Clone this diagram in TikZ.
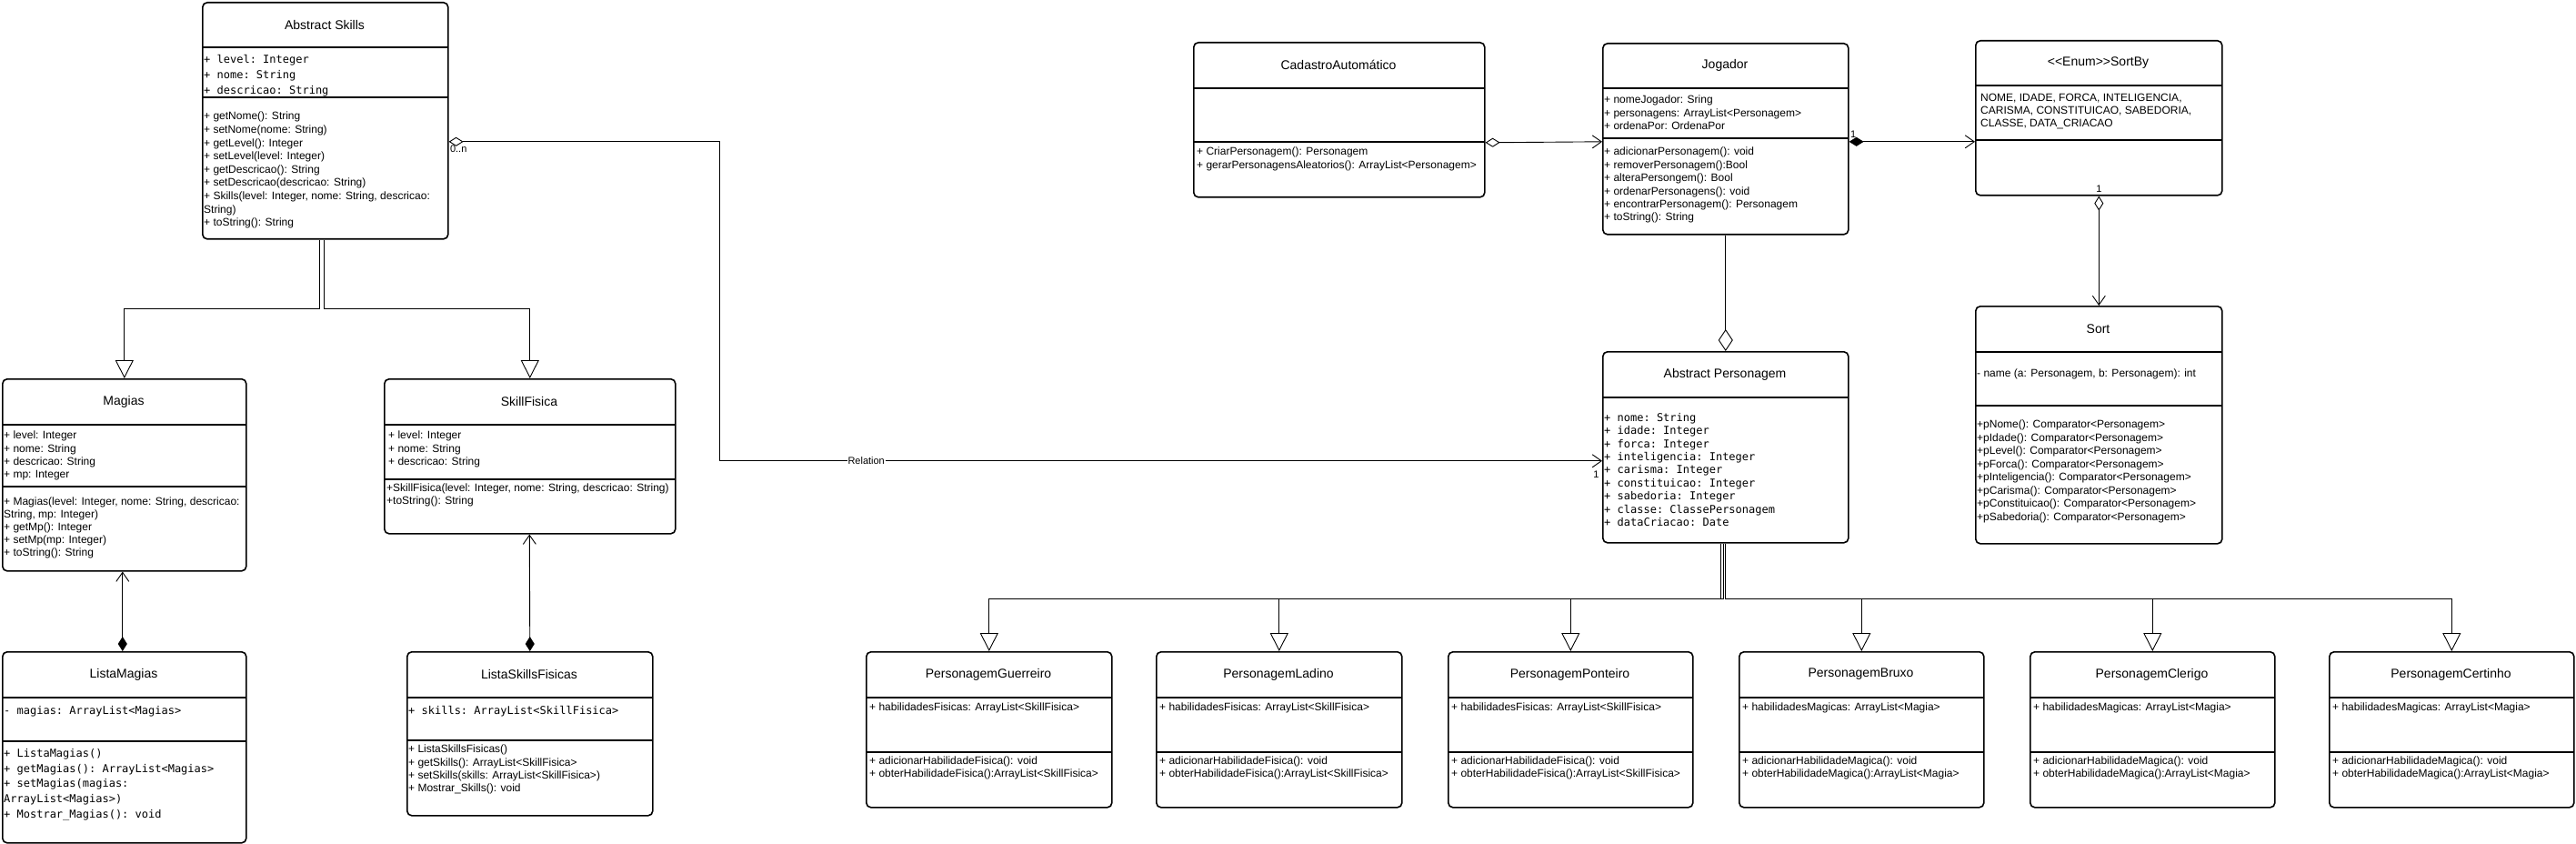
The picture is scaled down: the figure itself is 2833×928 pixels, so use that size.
\documentclass[tikz,border=0pt]{standalone}
\usepackage{fontspec}
\setmainfont{Liberation Sans}
\setmonofont{DejaVu Sans Mono}
\usetikzlibrary{arrows.meta,positioning,calc}

% class box: name, left, top, right, bottom, header line, title
\newcommand{\umlclass}[7]{%
  \node[clsbox,anchor=north west,minimum width={#4-#2},minimum height={#5-#3}] (#1) at (#2,#3) {};
  \draw[divline] (#2,#6) -- (#4,#6);
  \node[ttl] (#1-title) at ({(#2+#4)/2},{(#3+#6)/2}) {#7};
}

\begin{document}
\begin{tikzpicture}[x=1pt,y=-1pt,
  clsbox/.style={draw,line width=1.6pt,rounded corners=5pt,inner sep=0pt},
  divline/.style={line width=1.1pt},
  ttl/.style={font=\fontsize{14}{16}\selectfont,inner sep=0pt},
  mem/.style={anchor=north west,align=left,inner sep=0pt,font=\fontsize{12}{#1}\selectfont},
  mem/.default=14.5,
  mono/.style={anchor=north west,align=left,inner sep=0pt,font=\ttfamily\fontsize{12}{#1}\selectfont},
  mono/.default=14.5,
  lbl/.style={font=\fontsize{11}{13}\selectfont,inner sep=1pt},
  conn/.style={line width=0.9pt},
  gen/.style={conn,-{Triangle[open,length=20pt,width=20pt]}},
  comp/.style={conn,{Diamond[length=16pt,width=10pt]}-{Straight Barb[length=10pt,width=14pt]}},
  aggr/.style={conn,{Diamond[open,length=16pt,width=10pt]}-{Straight Barb[length=10pt,width=14pt]}}]

  \fill[white] (0,0) rectangle (2833,928);
  \useasboundingbox (0,0) rectangle (2833,928);

  % skills side
  \umlclass{as}{222}{2}{492}{262}{52}{Abstract Skills}
  \draw[divline] (222,107) -- (492,107);
  \node[mono=17] (as-attr) at (224,60) {+ level: Integer\\+ nome: String\\+ descricao: String};
  \node[mem=14.6] (as-ops) at (224,123) {+ getNome(): String\\+ setNome(nome: String)\\+ getLevel(): Integer\\+ setLevel(level: Integer)\\+ getDescricao(): String\\+ setDescricao(descricao: String)\\+ Skills(level: Integer, nome: String, descricao:\\String)\\+ toString(): String};

  \umlclass{mg}{2}{416}{270}{627}{467}{Magias}
  \draw[divline] (2,535) -- (270,535);
  \node[mem=14.3] (mg-attr) at (4,474) {+ level: Integer\\+ nome: String\\+ descricao: String\\+ mp: Integer};
  \node[mem=14] (mg-ops) at (4,547) {+ Magias(level: Integer, nome: String, descricao:\\String, mp: Integer)\\+ getMp(): Integer\\+ setMp(mp: Integer)\\+ toString(): String};

  \umlclass{sf}{422}{416}{742}{586}{467}{SkillFisica}
  \draw[divline] (422,527) -- (742,527);
  \node[mem=14.3] (sf-attr) at (427,474) {+ level: Integer\\+ nome: String\\+ descricao: String};
  \node[mem=14] (sf-ops) at (425,532) {+SkillFisica(level: Integer, nome: String, descricao: String)\\+toString(): String};

  \umlclass{lm}{2}{716}{270}{926}{767}{ListaMagias}
  \draw[divline] (2,815) -- (270,815);
  \node[mono] (lm-attr) at (4,776) {- magias: ArrayList<Magias>};
  \node[mono=16.7] (lm-ops) at (4,823) {+ ListaMagias()\\+ getMagias(): ArrayList<Magias>\\+ setMagias(magias:\\ArrayList<Magias>)\\+ Mostrar\_Magias(): void};

  \umlclass{lsf}{447}{716}{717}{896}{767}{ListaSkillsFisicas}
  \draw[divline] (447,814) -- (717,814);
  \node[mono] (lsf-attr) at (449,776) {+ skills: ArrayList<SkillFisica>};
  \node[mem=14.3] (lsf-ops) at (449,819) {+ ListaSkillsFisicas()\\+ getSkills(): ArrayList<SkillFisica>\\+ setSkills(skills: ArrayList<SkillFisica>)\\+ Mostrar\_Skills(): void};

  % player side
  \umlclass{ca}{1312}{46}{1632}{216}{97}{CadastroAutomático}
  \draw[divline] (1312,156) -- (1632,156);
  \node[mem=14.3] (ca-ops) at (1316,162) {+ CriarPersonagem(): Personagem\\+ gerarPersonagensAleatorios(): ArrayList<Personagem>};

  \umlclass{jg}{1762}{47}{2032}{257}{97}{Jogador}
  \draw[divline] (1762,152) -- (2032,152);
  \node[mem] (jg-attr) at (1764,105) {+ nomeJogador: Sring\\+ personagens: ArrayList<Personagem>\\+ ordenaPor: OrdenaPor};
  \node[mem=14.4] (jg-ops) at (1764,162) {+ adicionarPersonagem(): void\\+ removerPersonagem():Bool\\+ alteraPersongem(): Bool\\+ ordenarPersonagens(): void\\+ encontrarPersonagem(): Personagem\\+ toString(): String};

  \umlclass{sb}{2172}{44}{2443}{214}{94}{<\kern0pt<Enum>\kern0pt>SortBy}
  \draw[divline] (2172,154) -- (2443,154);
  \node[mem=14] (sb-attr) at (2178,103) {NOME, IDADE, FORCA, INTELIGENCIA,\\CARISMA, CONSTITUICAO, SABEDORIA,\\CLASSE, DATA\_CRIACAO};

  \umlclass{ap}{1762}{386}{2032}{596}{437}{Abstract Personagem}
  \node[mono=14.4] (ap-attr) at (1764,454) {+ nome: String\\+ idade: Integer\\+ forca: Integer\\+ inteligencia: Integer\\+ carisma: Integer\\+ constituicao: Integer\\+ sabedoria: Integer\\+ classe: ClassePersonagem\\+ dataCriacao: Date};

  \umlclass{so}{2172}{336}{2443}{597}{387}{Sort}
  \draw[divline] (2172,446) -- (2443,446);
  \node[mem] (so-attr) at (2174,406) {- name (a: Personagem, b: Personagem): int};
  \node[mem] (so-ops) at (2174,462) {+pNome(): Comparator<Personagem>\\+pIdade(): Comparator<Personagem>\\+pLevel(): Comparator<Personagem>\\+pForca(): Comparator<Personagem>\\+pInteligencia(): Comparator<Personagem>\\+pCarisma(): Comparator<Personagem>\\+pConstituicao(): Comparator<Personagem>\\+pSabedoria(): Comparator<Personagem>};

  % character classes
  \umlclass{pg}{952}{716}{1222}{887}{767}{PersonagemGuerreiro}
  \draw[divline] (952,827) -- (1222,827);
  \node[mem=14] (pg-attr) at (956,773) {+ habilidadesFisicas: ArrayList<SkillFisica>};
  \node[mem=14] (pg-ops) at (956,832) {+ adicionarHabilidadeFisica(): void\\+ obterHabilidadeFisica():ArrayList<SkillFisica>};

  \umlclass{pl}{1271}{716}{1541}{887}{767}{PersonagemLadino}
  \draw[divline] (1271,827) -- (1541,827);
  \node[mem=14] (pl-attr) at (1275,773) {+ habilidadesFisicas: ArrayList<SkillFisica>};
  \node[mem=14] (pl-ops) at (1275,832) {+ adicionarHabilidadeFisica(): void\\+ obterHabilidadeFisica():ArrayList<SkillFisica>};

  \umlclass{pp}{1592}{716}{1861}{887}{767}{PersonagemPonteiro}
  \draw[divline] (1592,827) -- (1861,827);
  \node[mem=14] (pp-attr) at (1596,773) {+ habilidadesFisicas: ArrayList<SkillFisica>};
  \node[mem=14] (pp-ops) at (1596,832) {+ adicionarHabilidadeFisica(): void\\+ obterHabilidadeFisica():ArrayList<SkillFisica>};

  \umlclass{pb}{1912}{716}{2181}{887}{767}{PersonagemBruxo}
  \draw[divline] (1912,827) -- (2181,827);
  \node[mem=14] (pb-attr) at (1916,773) {+ habilidadesMagicas: ArrayList<Magia>};
  \node[mem=14] (pb-ops) at (1916,832) {+ adicionarHabilidadeMagica(): void\\+ obterHabilidadeMagica():ArrayList<Magia>};

  \umlclass{pc}{2232}{716}{2501}{887}{767}{PersonagemClerigo}
  \draw[divline] (2232,827) -- (2501,827);
  \node[mem=14] (pc-attr) at (2236,773) {+ habilidadesMagicas: ArrayList<Magia>};
  \node[mem=14] (pc-ops) at (2236,832) {+ adicionarHabilidadeMagica(): void\\+ obterHabilidadeMagica():ArrayList<Magia>};

  \umlclass{pct}{2561}{716}{2830}{887}{767}{PersonagemCertinho}
  \draw[divline] (2561,827) -- (2830,827);
  \node[mem=14] (pct-attr) at (2565,773) {+ habilidadesMagicas: ArrayList<Magia>};
  \node[mem=14] (pct-ops) at (2565,832) {+ adicionarHabilidadeMagica(): void\\+ obterHabilidadeMagica():ArrayList<Magia>};

  % inheritance
  \draw[gen] ([xshift=-6pt]as.south) -- ++(0,76) -| (mg.north);
  \draw[gen] ([xshift=-1pt]as.south) -- ++(0,76) -| (sf.north);
  \draw[gen] ([xshift=-5pt]ap.south) -- ++(0,61) -| (pg.north);
  \draw[gen] ([xshift=-5pt]ap.south) -- ++(0,61) -| (pl.north);
  \draw[gen] ([xshift=-2.5pt]ap.south) -- ++(0,61) -| (pp.north);
  \draw[gen] (ap.south) -- ++(0,61) -| (pb.north);
  \draw[gen] (ap.south) -- ++(0,61) -| (pc.north);
  \draw[gen] (ap.south) -- ++(0,61) -| (pct.north);

  % lists
  \draw[comp] ([xshift=-2pt]lm.north) -- ([xshift=-2pt]mg.south);
  \draw[comp] (lsf.north) -- ([xshift=-0.5pt]sf.south);

  % associations
  \draw[aggr] ([yshift=-23pt]as.east) node[lbl,anchor=north west,yshift=-3pt] {0..n}
    -- ++(298,0) |- node[lbl,pos=0.583,fill=white] {Relation} ([yshift=-15pt]ap.west)
    node[lbl,anchor=north east,xshift=-2pt,yshift=-10pt] {1};
  \draw[aggr] ([yshift=-25pt]ca.east) -- ([yshift=-3pt]jg.west);
  \draw[comp] ([yshift=-3pt]jg.east) node[lbl,anchor=south west,yshift=3pt] {1}
    -- ([yshift=-26pt]sb.west);
  \draw[aggr] (sb.south) node[lbl,anchor=south,yshift=3pt] {1} -- (so.north);
  \draw[conn,-{Diamond[open,length=24pt,width=16pt]}] (jg.south) -- (ap.north);
\end{tikzpicture}
\end{document}
